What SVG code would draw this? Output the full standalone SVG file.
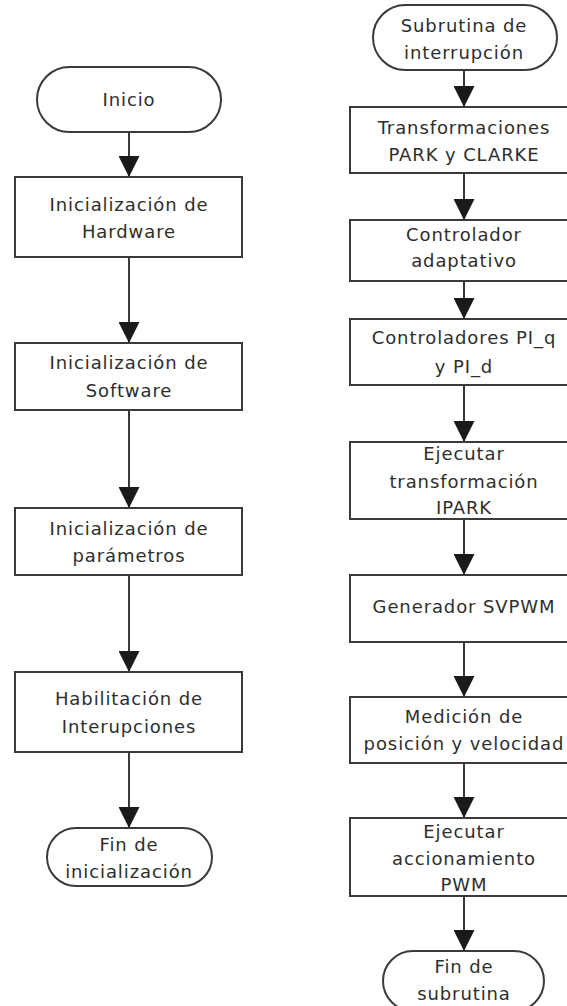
<svg xmlns="http://www.w3.org/2000/svg" width="567" height="1006" viewBox="0 0 567 1006">
<defs>
<style>
.shape{fill:#ffffff;stroke:#3a3a3a;stroke-width:2}
.lbl{font-family:"DejaVu Sans",sans-serif;font-size:18px;letter-spacing:0.9px;fill:#2e2e2e;text-anchor:middle}
.conn{stroke:#3a3a3a;stroke-width:2;fill:none;marker-end:url(#ah)}
</style>
<marker id="ah" markerUnits="userSpaceOnUse" markerWidth="21" markerHeight="21" viewBox="0 0 21 21" refX="21" refY="10.5" orient="auto">
<path d="M0,0 L21,10.5 L0,21 z" fill="#1a1a1a"/>
</marker>
</defs>
<rect width="567" height="1006" fill="#ffffff"/>
<g id="connectors">
<line class="conn" x1="129" y1="132" x2="129" y2="177"/>
<line class="conn" x1="129" y1="257" x2="129" y2="343"/>
<line class="conn" x1="129" y1="410" x2="129" y2="508"/>
<line class="conn" x1="129" y1="575" x2="129" y2="672"/>
<line class="conn" x1="129" y1="752" x2="129" y2="828"/>
<line class="conn" x1="464" y1="70" x2="464" y2="107"/>
<line class="conn" x1="464" y1="173" x2="464" y2="220"/>
<line class="conn" x1="464" y1="281" x2="464" y2="319"/>
<line class="conn" x1="464" y1="385" x2="464" y2="442"/>
<line class="conn" x1="464" y1="519" x2="464" y2="575"/>
<line class="conn" x1="464" y1="642" x2="464" y2="697"/>
<line class="conn" x1="464" y1="763" x2="464" y2="818"/>
<line class="conn" x1="464" y1="896" x2="464" y2="951"/>
</g>
<g id="inicio"><rect class="shape" x="37" y="67" width="184" height="65" rx="32.5"/><text class="lbl" x="129" y="106">Inicio</text></g>
<g id="hardware"><rect class="shape" x="15" y="177" width="227" height="80"/><text class="lbl" x="129" y="211">Inicialización de</text><text class="lbl" x="129" y="238">Hardware</text></g>
<g id="software"><rect class="shape" x="15" y="343" width="227" height="67"/><text class="lbl" x="129" y="369">Inicialización de</text><text class="lbl" x="129" y="397">Software</text></g>
<g id="parametros"><rect class="shape" x="15" y="508" width="227" height="67"/><text class="lbl" x="129" y="535">Inicialización de</text><text class="lbl" x="129" y="562">parámetros</text></g>
<g id="habilitacion"><rect class="shape" x="15" y="672" width="227" height="80"/><text class="lbl" x="129" y="705">Habilitación de</text><text class="lbl" x="129" y="733">Interupciones</text></g>
<g id="fin-init"><rect class="shape" x="47" y="828" width="165" height="58" rx="29"/><text class="lbl" x="129" y="851">Fin de</text><text class="lbl" x="129" y="878">inicialización</text></g>
<g id="subrutina"><rect class="shape" x="373" y="5" width="184" height="65" rx="32.5"/><text class="lbl" x="464" y="32">Subrutina de</text><text class="lbl" x="464" y="59">interrupción</text></g>
<g id="transformaciones"><rect class="shape" x="350" y="107" width="220" height="66"/><text class="lbl" x="464" y="134">Transformaciones</text><text class="lbl" x="464" y="161">PARK y CLARKE</text></g>
<g id="controlador"><rect class="shape" x="350" y="220" width="220" height="61"/><text class="lbl" x="464" y="241">Controlador</text><text class="lbl" x="464" y="267">adaptativo</text></g>
<g id="pi"><rect class="shape" x="350" y="319" width="220" height="66"/><text class="lbl" x="464" y="344">Controladores PI_q</text><text class="lbl" x="464" y="373">y PI_d</text></g>
<g id="ipark"><rect class="shape" x="350" y="442" width="220" height="77"/><text class="lbl" x="464" y="460">Ejecutar</text><text class="lbl" x="464" y="488">transformación</text><text class="lbl" x="464" y="514">IPARK</text></g>
<g id="svpwm"><rect class="shape" x="350" y="575" width="220" height="67"/><text class="lbl" x="464" y="613">Generador SVPWM</text></g>
<g id="medicion"><rect class="shape" x="350" y="697" width="220" height="66"/><text class="lbl" x="464" y="723">Medición de</text><text class="lbl" x="464" y="750">posición y velocidad</text></g>
<g id="pwm"><rect class="shape" x="350" y="818" width="220" height="78"/><text class="lbl" x="464" y="838">Ejecutar</text><text class="lbl" x="464" y="865">accionamiento</text><text class="lbl" x="464" y="891">PWM</text></g>
<g id="fin-sub"><rect class="shape" x="383" y="951" width="161" height="60" rx="30"/><text class="lbl" x="464" y="973">Fin de</text><text class="lbl" x="464" y="1000">subrutina</text></g>
</svg>
